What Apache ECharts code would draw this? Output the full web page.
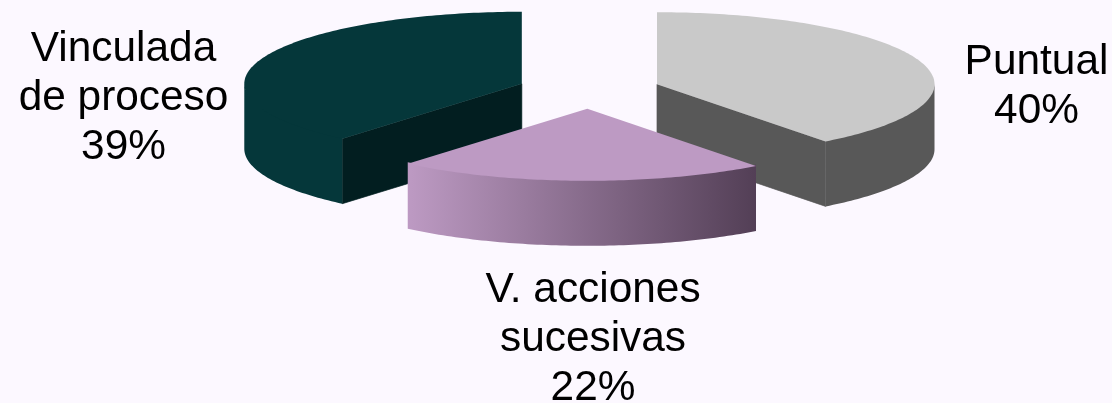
<!DOCTYPE html>
<html>
<head>
<meta charset="utf-8">
<style>html,body{margin:0;padding:0;background:#FCF8FF}#c{width:1112px;height:403px}</style>
<script src="https://cdn.jsdelivr.net/npm/echarts@6/dist/echarts.min.js"></script>
</head>
<body>
<div id="c"></div>
<script>
// Data, clockwise from 12 o'clock (shares; labels print them rounded)
const categories = ['Puntual', 'V. acciones\nsucesivas', 'Vinculada\nde proceso'];
const values = [39.6, 21.6, 38.8];

// Appearance
const topColors = ['#C9C9C9', '#BD9AC3', '#05373A'];
const cutColors = ['#585858', '#533F56', '#021E20'];
const rimColors = ['#585858', null, '#05373A'];
const rimGradient = ['#BD9AC3', '#533F56'];
const labelAnchors = [[1036.5, 38], [593, 266], [123.5, 25]];
const layers = [0, 1, 0];

const geometry = {cx: 589.1, cy: 90.2, rx: 277.5, tilt: 0.2595, depth: 65, explode: 71.7};
const total = values.reduce((a, b) => a + b, 0);
const RAD = Math.PI / 180;

function renderItem(params, api) {
  const i = params.dataIndex;
  const g = geometry;
  const v = api.value(0);
  const before = values.slice(0, i).reduce((a, b) => a + b, 0);
  const a0 = before / total * 360;
  const a1 = a0 + v / total * 360;
  const mid = (a0 + a1) / 2 * RAD;
  const ox = g.cx + g.explode * Math.sin(mid);
  const oy = g.cy - g.explode * g.tilt * Math.cos(mid);
  const pt = (deg, drop) => [
    ox + g.rx * Math.sin(deg * RAD),
    oy - g.rx * g.tilt * Math.cos(deg * RAD) + (drop || 0)
  ];
  const arc = (from, to, drop) => {
    const n = Math.max(2, Math.ceil(Math.abs(to - from)));
    const out = [];
    for (let k = 0; k <= n; k++) out.push(pt(from + (to - from) * k / n, drop));
    return out;
  };
  const apex = [ox, oy];
  const apexLow = [ox, oy + g.depth];
  const base = layers[i] * 10;
  const children = [];
  const poly = (points, fill, z, stroke) => children.push({
    type: 'polygon',
    shape: {points: points},
    style: {fill: fill, stroke: stroke || null, lineWidth: stroke ? 0.7 : 0},
    z2: base + z
  });
  // radial cut faces, only those turned towards the viewer
  if (Math.sin(a0 * RAD) < -0.01) poly([apex, pt(a0), pt(a0, g.depth), apexLow], cutColors[i], 1, cutColors[i]);
  if (Math.sin(a1 * RAD) > 0.01) poly([apex, pt(a1), pt(a1, g.depth), apexLow], cutColors[i], 1, cutColors[i]);
  // outer rim: only the front half of the ellipse is visible; its upper edge tucks under the top surface
  const f0 = Math.max(a0, 90), f1 = Math.min(a1, 270);
  if (f1 > f0) {
    const fill = rimColors[i] || {
      type: 'linear', x: 0, y: 0, x2: 1, y2: 0,
      colorStops: [{offset: 0, color: rimGradient[0]}, {offset: 1, color: rimGradient[1]}]
    };
    poly(arc(f0, f1, -1.5).concat(arc(f1, f0, g.depth)), fill, 2);
  }
  // top surface
  poly([apex].concat(arc(a0, a1)), topColors[i], 3);
  // label
  children.push({
    type: 'text',
    x: labelAnchors[i][0],
    y: labelAnchors[i][1],
    style: {
      text: api.value(1) + '\n' + Math.round(v) + '%',
      fontFamily: '"Liberation Sans", Arial, sans-serif',
      fontSize: 42.4,
      lineHeight: 49,
      fill: '#000000',
      align: 'center',
      verticalAlign: 'top'
    },
    z2: 50
  });
  return {type: 'group', children: children};
}

const chart = echarts.init(document.getElementById('c'), null, {renderer: 'canvas', width: 1112, height: 403});
chart.setOption({
  backgroundColor: '#FCF8FF',
  animation: false,
  series: [{
    type: 'custom',
    coordinateSystem: 'none',
    renderItem: renderItem,
    clip: false,
    data: values.map((v, i) => [v, categories[i]]),
    dimensions: [{name: 'value', type: 'number'}, {name: 'name', type: 'ordinal'}]
  }]
});
</script>
</body>
</html>
